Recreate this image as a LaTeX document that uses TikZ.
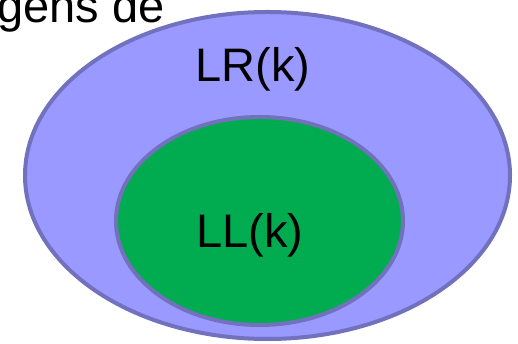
\documentclass[tikz,border=0pt]{standalone}
\usepackage{fontspec}
\setmainfont{Liberation Sans}
\usetikzlibrary{shapes.geometric, positioning}
\definecolor{lavender}{HTML}{9999FF}
\definecolor{rim}{HTML}{7171BD}
\definecolor{leaf}{HTML}{00AC4F}

\begin{document}
\begin{tikzpicture}[
  x=1pt, y=1pt,
  set/.style={ellipse, draw=rim, line width=4pt, inner sep=0pt},
  label/.style={anchor=base, inner sep=0pt, font=\fontsize{47}{56}\selectfont}
]
\useasboundingbox (0,0) rectangle (518,344);

\node[label, anchor=base west] (heading) at (-3,321) {gens de};

\node[set, fill=lavender, minimum width=485pt, minimum height=327pt] (LR) at (267.5,168.5) {};
\node[set, fill=leaf, minimum width=287pt, minimum height=208pt] (LL) at (259.5,123) {};

\node[label] (LRtext) at (253,262) {LR(k)};
\node[label] (LLtext) at (250,96) {LL(k)};

\end{tikzpicture}
\end{document}
